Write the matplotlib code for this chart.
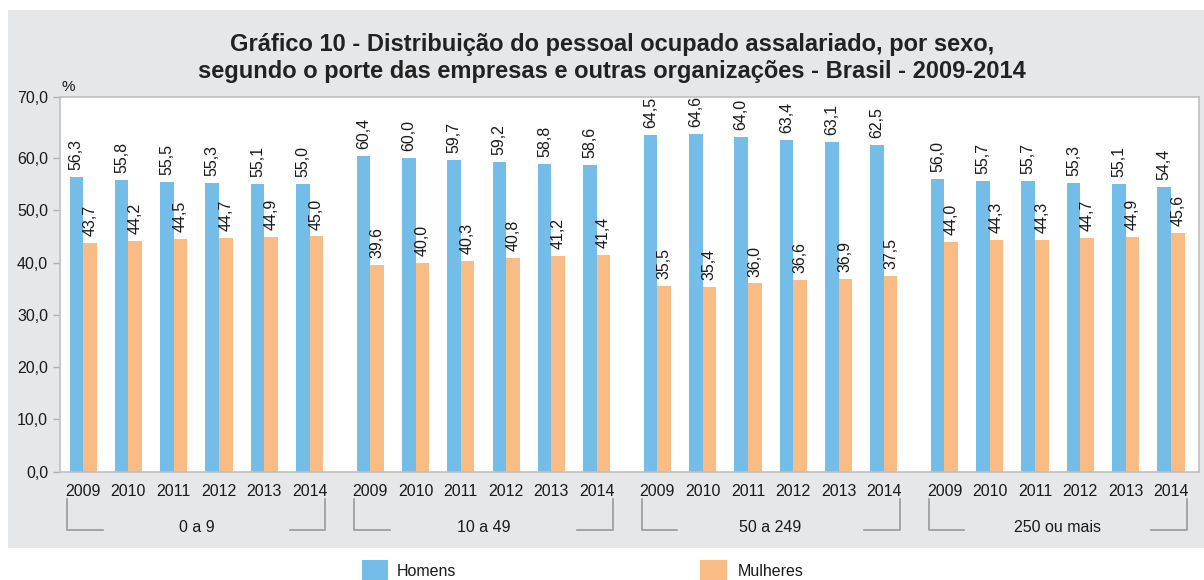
import matplotlib
matplotlib.use("Agg")
import matplotlib.pyplot as plt
from matplotlib.patches import Rectangle
from matplotlib.lines import Line2D
import matplotlib.transforms as mtransforms
from matplotlib import font_manager
import numpy as np

plt.rcParams['font.family'] = ['Liberation Sans', 'DejaVu Sans']

groups = ["0 a 9", "10 a 49", "50 a 249", "250 ou mais"]
years = ["2009", "2010", "2011", "2012", "2013", "2014"]
homens = [
    [56.3, 55.8, 55.5, 55.3, 55.1, 55.0],
    [60.4, 60.0, 59.7, 59.2, 58.8, 58.6],
    [64.5, 64.6, 64.0, 63.4, 63.1, 62.5],
    [56.0, 55.7, 55.7, 55.3, 55.1, 54.4],
]
mulheres = [
    [43.7, 44.2, 44.5, 44.7, 44.9, 45.0],
    [39.6, 40.0, 40.3, 40.8, 41.2, 41.4],
    [35.5, 35.4, 36.0, 36.6, 36.9, 37.5],
    [44.0, 44.3, 44.3, 44.7, 44.9, 45.6],
]
y_ticks = [0, 10, 20, 30, 40, 50, 60, 70]
title = ("Gráfico 10 - Distribuição do pessoal ocupado assalariado, por sexo,\n"
         "segundo o porte das empresas e outras organizações - Brasil - 2009-2014")

c_h = "#74BDE8"
c_m = "#F9BC85"
bg = "#E6E7E9"

names = {f.name for f in font_manager.fontManager.ttflist}
title_font = 'Liberation Sans Narrow' if 'Liberation Sans Narrow' in names else 'Liberation Sans'
title_size = 19 if title_font == 'Liberation Sans Narrow' else 17

W, H = 1204, 580
fig = plt.figure(figsize=(W / 100, H / 100), dpi=100)

# gray panel
fig.patches.append(Rectangle((8 / W, 1 - 548 / H), (W - 8) / W, (548 - 10) / H,
                             transform=fig.transFigure, facecolor=bg, edgecolor="none", zorder=-5))

ax = fig.add_axes([60 / W, 1 - 471.5 / H, (1199 - 60) / W, (471.5 - 97) / H])
ax.set_zorder(2)
ax.set_facecolor("white")

step = 6.34
bw = 0.3
ytop_lim = 71.7
xs_all, lab_all = [], []
trans = mtransforms.blended_transform_factory(ax.transData, fig.transFigure)
for g in range(len(groups)):
    xs = np.arange(len(years)) + g * step
    xs_all.extend(xs)
    lab_all.extend(years)
    ax.bar(xs - bw / 2, homens[g], width=bw, color=c_h, zorder=2)
    ax.bar(xs + bw / 2, mulheres[g], width=bw, color=c_m, zorder=2)
    for x, v in zip(xs, homens[g]):
        ax.annotate(f"{v:.1f}".replace(".", ","), (x - bw / 2, v), xytext=(0, 5),
                    textcoords="offset points", rotation=90, ha="center", va="bottom",
                    fontsize=11.5, color="#1a1a1a")
    for x, v in zip(xs, mulheres[g]):
        ax.annotate(f"{v:.1f}".replace(".", ","), (x + bw / 2, v), xytext=(0, 5),
                    textcoords="offset points", rotation=90, ha="center", va="bottom",
                    fontsize=11.5, color="#1a1a1a")

    # group brackets
    left = xs[0] - 0.35
    right = xs[-1] + 0.35
    ytop = 1 - 499 / H
    ybot = 1 - 530 / H
    arm = 0.78
    for pts in ([(left, ytop), (left, ybot), (left + arm, ybot)],
                [(right, ytop), (right, ybot), (right - arm, ybot)]):
        px, py = zip(*pts)
        fig.add_artist(Line2D(px, py, transform=trans, color="#9a9a9a", lw=1.2))
    fig.text((xs[0] + xs[-1]) / 2, 1 - 527 / H, groups[g], transform=trans,
             ha="center", va="center", fontsize=11.5, color="#1a1a1a")

ax.set_xticks(xs_all)
ax.set_xticklabels(lab_all, fontsize=11.5, color="#1a1a1a")
ax.tick_params(axis="x", length=0, pad=9)
ax.set_xlim(-0.51, 3 * step + 5 + 0.62)
ax.set_ylim(0, ytop_lim)
# top label "70,0" sits at the top edge of the frame, as in the source
tick_pos = [t if t < 70 else ytop_lim for t in y_ticks]
ax.set_yticks(tick_pos)
ax.set_yticklabels([f"{v:.1f}".replace(".", ",") for v in y_ticks],
                   fontsize=11.5, color="#1a1a1a")
ax.tick_params(axis="y", length=5, color="#b0b0b0", width=1)
for s in ax.spines.values():
    s.set_color("#c0c0c0")
    s.set_linewidth(1.2)

fig.text(68 / W, 1 - 87 / H, "%", fontsize=11, ha="center", va="center", color="#1a1a1a")

fig.text(612 / W, 1 - 58 / H, title, fontsize=title_size, fontweight="bold", ha="center",
         va="center", linespacing=1.2, color="#222222", family=title_font)

# legend
fig.patches.append(Rectangle((362 / W, 0), 26 / W, 20 / H, transform=fig.transFigure,
                             facecolor=c_h, edgecolor="none"))
fig.text(397 / W, 1 - 572 / H, "Homens", fontsize=11.5, va="center", color="#1a1a1a")
fig.patches.append(Rectangle((700 / W, 0), 27 / W, 20 / H, transform=fig.transFigure,
                             facecolor=c_m, edgecolor="none"))
fig.text(738 / W, 1 - 572 / H, "Mulheres", fontsize=11.5, va="center", color="#1a1a1a")

fig.savefig("out.png", dpi=100)
